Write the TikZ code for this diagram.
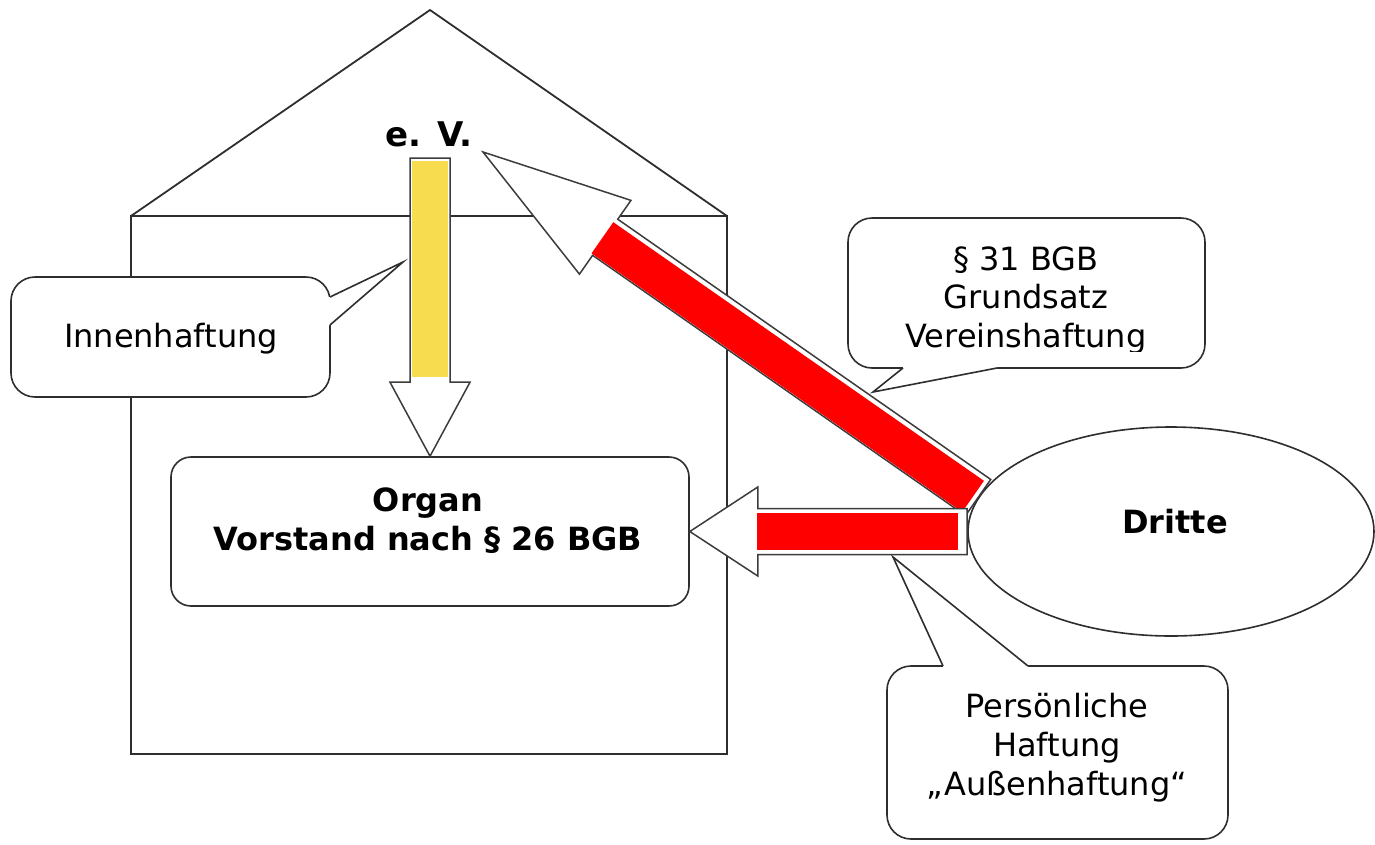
\documentclass[tikz,border=0pt]{standalone}
\usepackage{fontspec}
\setmainfont{DejaVu Sans}
\usetikzlibrary{calc,shapes.geometric}

\definecolor{edge}{HTML}{2E2E2E}
\definecolor{arrowedge}{HTML}{3C3C3C}
\definecolor{haftrot}{HTML}{FF0000}
\definecolor{innengelb}{HTML}{F8DC50}

\tikzset{
  line/.style={draw=edge, line width=1.8pt},
  bubble/.style={draw=edge, line width=1.6pt, fill=white, rounded corners=24pt, inner sep=0pt},
  roundbox/.style={draw=edge, line width=1.6pt, fill=white, rounded corners=20pt, inner sep=0pt},
  lbl/.style={font=\fontsize{32}{39}\selectfont, anchor=base, inner sep=0pt},
  blbl/.style={font=\fontsize{32}{39}\selectfont\bfseries, anchor=base, inner sep=0pt},
  blockedge/.style={draw=arrowedge, line width=1.5pt, fill=white, line join=miter},
}

% Block arrow outline: #1 name, #2 tip, #3 tail, #4 head length,
% #5 head half width, #6 shaft half width
\newcommand{\blockarrow}[6]{%
  \coordinate (#1-h)  at ($(#2)!#4!(#3)$);
  \coordinate (#1-ha) at ($(#1-h)!#5!90:(#3)$);
  \coordinate (#1-hb) at ($(#1-h)!#5!-90:(#3)$);
  \coordinate (#1-sa) at ($(#1-h)!#6!90:(#3)$);
  \coordinate (#1-sb) at ($(#1-h)!#6!-90:(#3)$);
  \coordinate (#1-ta) at ($(#3)!#6!-90:(#1-h)$);
  \coordinate (#1-tb) at ($(#3)!#6!90:(#1-h)$);
  \draw[blockedge] (#2) -- (#1-ha) -- (#1-sa) -- (#1-ta) -- (#1-tb) -- (#1-sb) -- (#1-hb) -- cycle;
}
% Coloured band inside an arrow shaft: #1 colour, #2 tip, #3 tail,
% #4 start distance, #5 end distance, #6 half width
\newcommand{\arrowband}[6]{%
  \coordinate (band-a) at ($(#2)!#4!(#3)$);
  \coordinate (band-b) at ($(#2)!#5!(#3)$);
  \fill[#1] ($(band-a)!#6!90:(band-b)$) -- ($(band-b)!#6!-90:(band-a)$)
         -- ($(band-b)!#6!90:(band-a)$) -- ($(band-a)!#6!-90:(band-b)$) -- cycle;
}

\begin{document}
\begin{tikzpicture}[x=1pt,y=-1pt]
\useasboundingbox (0,0) rectangle (1375,844);

% the association's house
\draw[line] (131,216) rectangle (727,754);
\draw[line, line join=miter] (131,216) -- (430,10) -- (727,216);

% Innenhaftung callout
\node[bubble, minimum width=319pt, minimum height=120pt] (innen) at (170.5,337) {};
\coordinate (innen-p1) at (330,297);
\coordinate (innen-p2) at (330,325);
\coordinate (innen-tip) at (403,262);
\fill[white] (innen-p1) -- (innen-tip) -- (innen-p2) -- ($(innen-p2)+(-4,0)$) -- ($(innen-p1)+(-4,0)$) -- cycle;
\draw[line, line width=1.6pt, line join=miter] (innen-p1) -- (innen-tip) -- (innen-p2);
\node[lbl] (innen-text) at (171,347) {Innenhaftung};

% organ box
\node[roundbox, minimum width=518pt, minimum height=149pt] (organ) at (430,531.5) {};
\node[blbl] (organ-a) at (428,511) {Organ};
\node[blbl] (organ-b) at (428,550) {Vorstand nach § 26 BGB};

% third parties
\node[draw=edge, line width=1.6pt, fill=white, ellipse, inner sep=0pt,
      minimum width=406pt, minimum height=209pt] (dritte) at (1171,531.5) {};
\node[blbl] (dritte-text) at (1175,533) {Dritte};

% e. V. label
\node[blbl, font=\fontsize{34}{40}\selectfont\bfseries] (ev) at (429,146) {e. V.};
\coordinate (ev-base) at (430,158);
\coordinate (ev-tip) at (483,152);
\coordinate (dritte-in) at (dritte.170);

% internal liability: e. V. -> organ
\blockarrow{inner}{organ.north}{ev-base}{74pt}{40pt}{20pt}
\arrowband{innengelb}{organ.north}{ev-base}{79pt}{295pt}{18pt}

% association liability: third parties -> e. V.
\blockarrow{assoc}{ev-tip}{dritte-in}{149pt}{45pt}{22pt}
% the red band sits slightly towards the lower edge of the shaft
\coordinate (assoc-bt) at ($(ev-tip)!2pt!-90:(dritte-in)$);
\coordinate (assoc-bd) at ($(dritte-in)!2pt!90:(ev-tip)$);
\arrowband{haftrot}{assoc-bt}{assoc-bd}{147pt}{599pt}{19pt}

% external liability: third parties -> organ
\blockarrow{outer}{organ.east}{dritte.west}{68pt}{44.5pt}{23pt}
\arrowband{haftrot}{organ.east}{dritte.west}{67pt}{268pt}{18.5pt}

% § 31 callout
\node[bubble, minimum width=357pt, minimum height=150pt] (verein) at (1026.5,293) {};
\coordinate (verein-p1) at (903,368);
\coordinate (verein-p2) at (997,368);
\coordinate (verein-tip) at (873,392);
\fill[white] (verein-p1) -- (verein-tip) -- (verein-p2) -- ($(verein-p2)+(0,-4)$) -- ($(verein-p1)+(0,-4)$) -- cycle;
\draw[line, line width=1.6pt, line join=miter] (verein-p1) -- (verein-tip) -- (verein-p2);
\begin{scope}
  \clip (848,218) rectangle (1205,351);
  \node[lbl] (verein-a) at (1026,270) {§ 31 BGB};
  \node[lbl] (verein-b) at (1026,308) {Grundsatz};
  \node[lbl] (verein-c) at (1026,347) {Vereinshaftung};
\end{scope}

% personal liability callout
\node[bubble, minimum width=341pt, minimum height=173pt] (pers) at (1057.5,752.5) {};
\coordinate (pers-p1) at (943,666);
\coordinate (pers-p2) at (1028,666);
\coordinate (pers-tip) at (893,557);
\fill[white] (pers-p1) -- (pers-tip) -- (pers-p2) -- ($(pers-p2)+(0,4)$) -- ($(pers-p1)+(0,4)$) -- cycle;
\draw[line, line width=1.6pt, line join=miter] (pers-p1) -- (pers-tip) -- (pers-p2);
\node[lbl] (pers-a) at (1057,717) {Persönliche};
\node[lbl] (pers-b) at (1057,756) {Haftung};
\node[lbl] (pers-c) at (1057,795) {„Außenhaftung“};
\end{tikzpicture}
\end{document}
